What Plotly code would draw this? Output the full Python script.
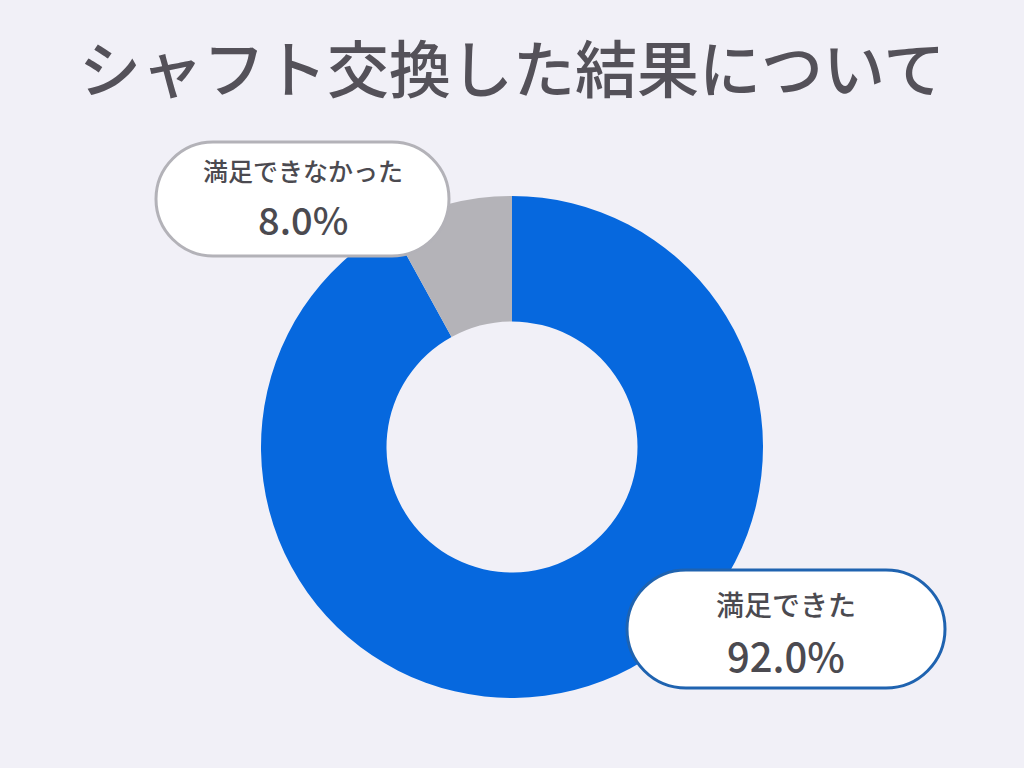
import plotly.graph_objects as go

W, H = 1024, 768

title = "シャフト交換した結果について"
labels = ["満足できた", "満足できなかった"]
values = [92.0, 8.0]
colors = ["#0668de", "#b4b3b8"]
border_colors = ["#1f63b0", "#b3b2b8"]

# label boxes in pixel coords: (x0, y0, x1, y1)
boxes = [(627, 570, 945, 688), (156, 142, 449, 256)]


def px(x, y):
    return x / W, 1 - y / H


def pill(x0, y0, x1, y1, r):
    k = 0.5523 * r
    pts = [
        ("M", [(x0 + r, y0)]),
        ("L", [(x1 - r, y0)]),
        ("C", [(x1 - r + k, y0), (x1, y0 + r - k), (x1, y0 + r)]),
        ("L", [(x1, y1 - r)]),
        ("C", [(x1, y1 - r + k), (x1 - r + k, y1), (x1 - r, y1)]),
        ("L", [(x0 + r, y1)]),
        ("C", [(x0 + r - k, y1), (x0, y1 - r + k), (x0, y1 - r)]),
        ("L", [(x0, y0 + r)]),
        ("C", [(x0, y0 + r - k), (x0 + r - k, y0), (x0 + r, y0)]),
    ]
    s = ""
    for cmd, ps in pts:
        s += cmd + " " + " ".join("%.5f,%.5f" % px(a, b) for a, b in ps) + " "
    return s + "Z"


cx, cy, rad = 512, 447, 251
fig = go.Figure(go.Pie(
    labels=labels,
    values=values,
    hole=0.5,
    sort=False,
    direction="clockwise",
    rotation=0,
    marker=dict(colors=colors, line=dict(width=0)),
    textinfo="none",
    hoverinfo="label+percent",
    domain=dict(x=[(cx - rad) / W, (cx + rad) / W],
                y=[1 - (cy + rad) / H, 1 - (cy - rad) / H]),
    showlegend=False,
))

shapes = []
annotations = []
for (x0, y0, x1, y1), lab, val, bc in zip(boxes, labels, values, border_colors):
    r = (y1 - y0) / 2
    shapes.append(dict(type="path", xref="paper", yref="paper",
                       path=pill(x0, y0, x1, y1, r),
                       fillcolor="#ffffff", line=dict(color=bc, width=3)))
    mx = (x0 + x1) / 2
    if val > 50:
        big, small, o1, o2 = 40, 28, 34, 85
    else:
        big, small, o1, o2 = 38, 25, 28, 76
    annotations.append(dict(x=mx / W, y=1 - (y0 + o1) / H, xref="paper", yref="paper",
                            xanchor="center", yanchor="middle",
                            text=lab, showarrow=False,
                            font=dict(size=small, color="#4b4a50", weight=500,
                                      family="Noto Sans CJK JP")))
    annotations.append(dict(x=mx / W, y=1 - (y0 + o2) / H, xref="paper", yref="paper",
                            xanchor="center", yanchor="middle",
                            text="%.1f%%" % val, showarrow=False,
                            font=dict(size=big, color="#4b4a50", weight=500,
                                      family="Noto Sans CJK JP")))

annotations.append(dict(x=0.5, y=1 - 66 / H, xref="paper", yref="paper",
                        xanchor="center", yanchor="middle",
                        text=title, showarrow=False,
                        font=dict(size=62, color="#545159", weight=500,
                                  family="Noto Sans CJK JP")))

fig.update_layout(
    width=W, height=H,
    margin=dict(l=0, r=0, t=0, b=0),
    paper_bgcolor="#f1f0f7",
    plot_bgcolor="#f1f0f7",
    shapes=shapes,
    annotations=annotations,
)

fig.write_html("out.html", config={"displayModeBar": False},
               post_script="document.body.style.margin='0';")
